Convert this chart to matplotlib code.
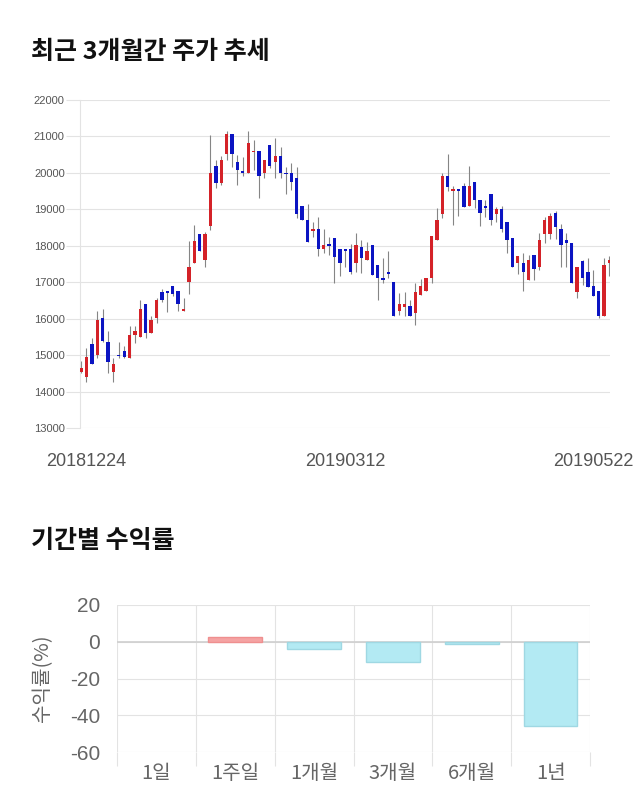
import matplotlib
matplotlib.use('Agg')
import matplotlib.pyplot as plt
import matplotlib.transforms as mtransforms
import numpy as np

plt.rcParams['font.family'] = ['Noto Sans CJK KR', 'DejaVu Sans']

# daily candles 20181224 ~ 20190522
opens = [14550, 14410, 15310, 15010, 16010, 15350, 14550, 14990, 15120, 14920,
         15560, 15510, 16410, 15600, 16010, 16720, 16720, 16910, 16760, 16200,
         17000, 17520, 18320, 17610, 18530, 20200, 19720, 20510, 21070, 20310,
         20060, 20010, 20570, 20600, 20010, 20770, 20310, 20460, 20010, 20010,
         19850, 19080, 18710, 18410, 18450, 17910, 18010, 18210, 17910, 17890,
         17910, 17520, 17960, 17610, 18010, 17460, 17110, 17270, 17000, 16200,
         16320, 16350, 16150, 16650, 16750, 17110, 18160, 18870, 19920, 19510,
         19560, 19650, 19100, 19760, 19260, 19100, 19410, 18870, 19000, 18650,
         18210, 17520, 17520, 17060, 17750, 17410, 18320, 18320, 18910, 18450,
         18160, 18070, 16720, 17570, 17270, 16910, 16760, 16060, 17520]
highs = [14830, 15190, 15470, 16210, 16260, 15670, 14920, 15350, 15240, 15800,
         15800, 16520, 16410, 16080, 16560, 16810, 16720, 16910, 16760, 16560,
         18120, 18570, 18320, 18390, 21040, 20360, 20450, 21160, 21070, 20490,
         20440, 21150, 20900, 20600, 20360, 20770, 20970, 20700, 20150, 20280,
         20170, 19080, 19150, 18660, 18800, 18450, 18250, 18210, 17910, 17910,
         18050, 18360, 18160, 18090, 18010, 17460, 17660, 17860, 17000, 16700,
         16720, 16500, 16970, 17080, 17110, 18270, 19030, 20010, 20520, 19650,
         19560, 19720, 20190, 19760, 19260, 19260, 19410, 19060, 19100, 18650,
         18210, 17720, 17800, 17750, 17750, 18340, 18800, 18910, 18960, 18610,
         18340, 18070, 17410, 17610, 17660, 17340, 16760, 17660, 17710]
lows = [14500, 14250, 14760, 14920, 15370, 14500, 14250, 14920, 14920, 14920,
        15330, 15510, 15470, 15600, 15880, 16450, 16170, 16610, 16200, 16200,
        16680, 17520, 17860, 17430, 18440, 19580, 19670, 20360, 20170, 19670,
        19920, 20010, 20080, 19320, 19850, 20130, 19850, 19850, 19410, 19530,
        18760, 18710, 18100, 18250, 17720, 17800, 17750, 16990, 17170, 17430,
        17230, 17290, 17260, 17610, 17200, 16520, 16990, 17110, 16060, 16100,
        16060, 16060, 15830, 16650, 16750, 16990, 18160, 18760, 19490, 18570,
        18820, 19060, 19100, 19030, 18530, 18800, 18570, 18640, 18390, 17800,
        17410, 17230, 16760, 17060, 17060, 17340, 18070, 18180, 18180, 17430,
        17430, 16970, 16560, 16930, 16860, 16610, 16010, 16060, 17160]
closes = [14660, 14960, 14760, 15970, 15400, 14810, 14760, 14970, 14960, 15560,
          15670, 16270, 15600, 15970, 16520, 16520, 16710, 16670, 16410, 16270,
          17410, 18120, 17860, 18320, 20010, 19720, 20360, 21070, 20510, 20080,
          20010, 20810, 20610, 19920, 20360, 20190, 20460, 20010, 19960, 19760,
          18870, 18710, 18100, 18450, 17910, 18010, 18000, 17700, 17520, 17860,
          17290, 18010, 17660, 17860, 17200, 17110, 17050, 17220, 16060, 16400,
          16400, 16060, 16720, 16900, 17110, 18270, 18710, 19920, 19610, 19560,
          19510, 19060, 19650, 19260, 18910, 19050, 18710, 19000, 18450, 18160,
          17410, 17720, 17270, 17610, 17360, 18160, 18710, 18820, 18510, 18020,
          18070, 16970, 17410, 17110, 16860, 16610, 16060, 17460, 17610]
date_labels = ['20181224', '20190312', '20190522']
date_idx = [0, 49, 98]
price_ticks = list(range(13000, 22001, 1000))

periods = ['1일', '1주일', '1개월', '3개월', '6개월', '1년']
returns = [0.0, 2.75, -3.85, -11.2, -1.3, -45.7]

fig = plt.figure(figsize=(6.4, 8.1), dpi=100)

fig.text(31/640, 1-52/810, '최근 3개월간 주가 추세', fontsize=18, fontweight='bold',
         va='center', ha='left', color='#111111')
fig.text(31/640, 1-541/810, '기간별 수익률', fontsize=18, fontweight='bold',
         va='center', ha='left', color='#111111')

# candle chart
ax = fig.add_axes([80/640, 1-428/810, 530/640, 328/810])
o = np.array(opens)
c = np.array(closes)
x = np.arange(len(o))
up = c >= o
colors = np.where(up, '#d42228', '#0b14c2')
ax.vlines(x, lows, highs, color='#858585', linewidth=0.8, zorder=2)
body_h = np.maximum(np.abs(c - o), 40)
ax.bar(x, body_h, bottom=np.minimum(o, c), width=0.62, color=colors,
       linewidth=0, zorder=3)
ax.set_xlim(-0.2, 98.1)
ax.set_ylim(13000, 22000)
ax.set_yticks(price_ticks)
ax.set_yticklabels([str(t) for t in price_ticks], fontsize=8, color='#555555',
                   family='Liberation Sans')
ax.grid(axis='y', color='#e3e3e3', linewidth=0.8)
ax.set_axisbelow(True)
ax.tick_params(axis='y', length=10, color='#e3e3e3', pad=1)
ax.set_xticks(date_idx)
ax.set_xticklabels(date_labels, fontsize=13, color='#555555', family='Liberation Sans')
ax.tick_params(axis='x', length=0, pad=18)
lbls = ax.get_xticklabels()
lbls[0].set_transform(lbls[0].get_transform() +
                      mtransforms.ScaledTranslation(5/100, 0, fig.dpi_scale_trans))
lbls[-1].set_transform(lbls[-1].get_transform() +
                       mtransforms.ScaledTranslation(-16/100, 0, fig.dpi_scale_trans))
for s in ['top', 'right', 'bottom']:
    ax.spines[s].set_visible(False)
ax.spines['left'].set_color('#e3e3e3')

# returns chart
ax2 = fig.add_axes([117/640, 1-752/810, 473/640, 147/810])
xb = np.arange(len(periods))
bar_cols = ['#f5a3a3' if v > 0 else '#b3eaf3' for v in returns]
edge_cols = ['#ef8f8f' if v > 0 else '#9fd8e3' for v in returns]
edge_w = [1 if v != 0 else 0 for v in returns]
ax2.bar(xb, returns, width=0.68, color=bar_cols, edgecolor=edge_cols,
        linewidth=edge_w, zorder=3)
ax2.set_xlim(-0.5, len(periods) - 0.5)
ax2.set_ylim(-60, 20)
ax2.set_yticks([20, 0, -20, -40, -60])
ax2.set_yticklabels(['20', '0', '-20', '-40', '-60'], fontsize=15, color='#666666',
                    family='Liberation Sans')
ax2.tick_params(axis='y', length=0, pad=12)
ax2.set_xticks(xb)
ax2.set_xticklabels(periods, fontsize=14.5, color='#666666')
ax2.tick_params(axis='x', length=0, pad=8)
ax2.set_xticks(np.arange(-0.5, len(periods)), minor=True)
ax2.tick_params(axis='x', which='minor', length=10, color='#e3e3e3', width=0.8)
ax2.grid(axis='y', color='#e3e3e3', linewidth=0.8)
ax2.grid(axis='x', which='minor', color='#e3e3e3', linewidth=0.8)
ax2.axhline(0, color='#cfcfcf', linewidth=1.2, zorder=2)
ax2.set_axisbelow(True)
for s in ['top', 'right', 'bottom', 'left']:
    ax2.spines[s].set_visible(False)
ax2.set_ylabel('수익률(%)', fontsize=14.5, color='#666666', labelpad=12)

fig.savefig('out.png', dpi=100)
